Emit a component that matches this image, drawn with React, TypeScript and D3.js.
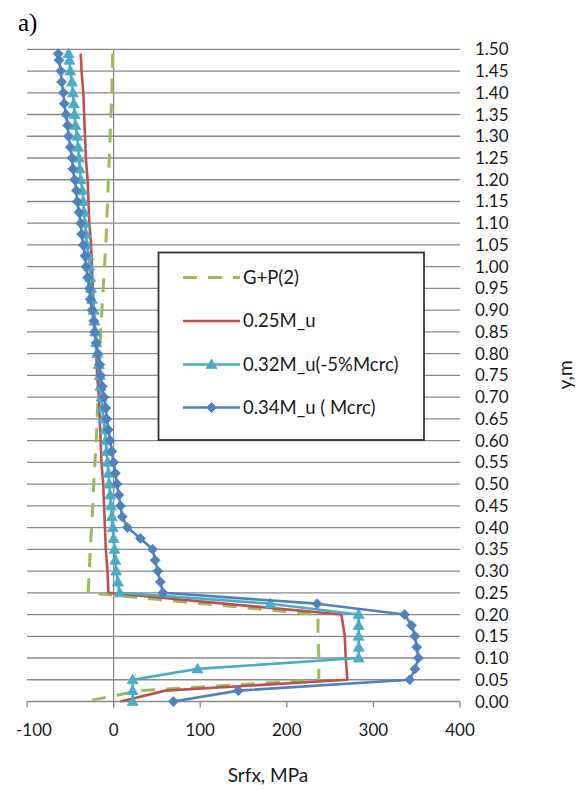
import React from "react";
import * as d3 from "d3";

// ---- data ----
const yTickLabels = ["0.00","0.05","0.10","0.15","0.20","0.25","0.30","0.35","0.40","0.45","0.50","0.55","0.60","0.65","0.70","0.75","0.80","0.85","0.90","0.95","1.00","1.05","1.10","1.15","1.20","1.25","1.30","1.35","1.40","1.45","1.50"];
const xTickValues = [-100, 0, 100, 200, 300, 400];

// depths for the unmarked series (G+P(2), 0.25M_u)
const yCoarse = [1.49,1.45,1.40,1.35,1.30,1.25,1.20,1.15,1.10,1.05,1.00,0.95,0.90,0.85,0.80,0.75,0.70,0.65,0.60,0.55,0.50,0.45,0.40,0.35,0.30,0.25,0.20,0.15,0.10,0.05,0.025,0.00];
const greenGP = [-1,-1.5,-2,-3,-4,-5,-6,-7,-8,-9,-10.5,-12,-13.5,-15,-16,-17,-18,-19,-20,-21.5,-23,-24,-25.5,-27,-28,-29.5,236,236,237,237,30,-33];
const red025 = [-38,-37,-35,-34,-33,-32,-30,-29,-28,-26,-25,-24,-23,-21,-20,-19,-17,-16,-15,-14,-12,-11,-10,-9,-7,-6,263,267,268,270,60,8];

// depths for the marked series
const yFine = [1.490,1.475,1.450,1.425,1.400,1.375,1.350,1.325,1.300,1.275,1.250,1.225,1.200,1.175,1.150,1.125,1.100,1.075,1.050,1.025,1.000,0.975,0.950,0.925,0.900,0.875,0.850,0.825,0.800,0.775,0.750,0.725,0.700,0.675,0.650,0.625,0.600,0.575,0.550,0.525,0.500,0.475,0.450,0.425,0.400,0.375,0.350,0.325,0.300,0.275,0.250,0.225,0.200,0.175,0.150,0.125,0.100,0.075,0.050,0.025,0.000];
const teal032 = [-52,-51,-50,-48,-47,-46,-45,-44,-42,-41,-40,-39,-38,-36,-35,-34,-33,-32,-31,-29,-28,-27,-26,-25,-23,-22,-21,-20,-19,-17,-16,-15,-14,-13,-12,-10,-9,-8,-7,-6,-5,-4,-3,-2,-1,0,1,2,3,5,7,181,283,283,283,283,283,97,22,22,22];
const blue034 = [-64,-63,-61,-60,-58,-57,-55,-53,-52,-50,-48,-47,-45,-43,-42,-40,-38,-37,-35,-33,-32,-30,-28,-27,-25,-23,-22,-20,-18,-16,-15,-13,-11,-9,-8,-6,-4,-2,0,2,4,6,8,10,16,31,45,48,51,54,57,235,336,344,348,350,352,348,342,144,69];

const legendLabels = ["G+P(2)", "0.25M_u", "0.32M_u(-5%Mcrc)", "0.34M_u ( Mcrc)"];

const GREEN = "#9BBB59";
const RED = "#C0504D";
const TEAL = "#4BACC6";
const BLUE = "#4F81BD";
const GRID = "#8a8a8a";
const TXT = "#1a1a1a";
const FONT = "Lato, 'Open Sans', sans-serif";

const W = 581, H = 791;
const x = d3.scaleLinear().domain([-100, 400]).range([27, 460]);
const y = d3.scaleLinear().domain([0, 1.5]).range([701.5, 49.3]);

const zip = (ys: number[], xs: number[]) => ys.map((v, i) => [xs[i], v] as [number, number]);
const lineGen = d3.line<[number, number]>()
  .x(d => x(d[0]))
  .y(d => y(d[1]));

const TRI = "M0,-5.5L5.5,4L-5.5,4Z";
const DIA = "M0,-5L5,0L0,5L-5,0Z";

export default function App() {
  const gPts = zip(yCoarse, greenGP);
  const rPts = zip(yCoarse, red025);
  const tPts = zip(yFine, teal032);
  const bPts = zip(yFine, blue034);
  const x0 = x.range()[0], x1 = x.range()[1];

  const legX = 158.5, legY = 252.5, legW = 265.5, legH = 187.5;
  const legRows = [277.5, 321, 364.5, 407.5];

  return (
    <svg width={W} height={H} style={{ position: "absolute", left: 0, top: 0, background: "#fff" }}>
      <rect x={0} y={0} width={W} height={H} fill="#fff" />
      <text x={18} y={31} fontFamily="'Liberation Serif', 'Times New Roman', serif" fontSize={25} fill="#000">a)</text>

      {/* horizontal gridlines */}
      {yTickLabels.map((t) => (
        <line key={t} x1={x0} x2={x1} y1={y(+t)} y2={y(+t)} stroke={GRID} strokeWidth={1.3} />
      ))}
      {/* vertical axis line at 0 */}
      <line x1={x(0)} x2={x(0)} y1={y(1.5)} y2={y(0) + 6} stroke={GRID} strokeWidth={1.3} />
      {/* x axis ticks */}
      {xTickValues.map((v) => (
        <line key={v} x1={x(v)} x2={x(v)} y1={y(0)} y2={y(0) + 6} stroke={GRID} strokeWidth={1.3} />
      ))}
      {xTickValues.map((v, i) => (
        <text key={"xl" + v} x={x(v) + (i === 0 ? 7 : 0)} y={736} textAnchor="middle" fontFamily={FONT} fontSize={17} fill={TXT}>{v}</text>
      ))}
      {yTickLabels.map((t) => (
        <text key={"yl" + t} x={475} y={y(+t) + 6} fontFamily={FONT} fontSize={17} fill={TXT}>{t}</text>
      ))}
      <text x={268} y={782} textAnchor="middle" fontFamily={FONT} fontSize={19} fill={TXT}>Srfx, MPa</text>
      <text transform="translate(572,375) rotate(-90)" textAnchor="middle" fontFamily={FONT} fontSize={19} fill={TXT}>y,m</text>

      {/* series */}
      <path d={lineGen(gPts) || ""} fill="none" stroke={GREEN} strokeWidth={3} strokeDasharray="14,11" />
      <path d={lineGen(rPts) || ""} fill="none" stroke={RED} strokeWidth={2.6} strokeLinejoin="round" />
      <path d={lineGen(tPts) || ""} fill="none" stroke={TEAL} strokeWidth={2.6} strokeLinejoin="round" />
      {tPts.map((p, i) => (
        <path key={"t" + i} d={TRI} transform={`translate(${x(p[0])},${y(p[1])})`} fill={TEAL} stroke={TEAL} strokeWidth={0.8} />
      ))}
      <path d={lineGen(bPts) || ""} fill="none" stroke={BLUE} strokeWidth={2.6} strokeLinejoin="round" />
      {bPts.map((p, i) => (
        <path key={"b" + i} d={DIA} transform={`translate(${x(p[0])},${y(p[1])})`} fill={BLUE} stroke={BLUE} strokeWidth={0.8} />
      ))}

      {/* legend */}
      <rect x={legX} y={legY} width={legW} height={legH} fill="#fff" stroke="#333" strokeWidth={1.8} />
      <line x1={183} x2={240} y1={legRows[0]} y2={legRows[0]} stroke={GREEN} strokeWidth={3} strokeDasharray="14,11" />
      <line x1={183} x2={240} y1={legRows[1]} y2={legRows[1]} stroke={RED} strokeWidth={2.6} />
      <line x1={183} x2={240} y1={legRows[2]} y2={legRows[2]} stroke={TEAL} strokeWidth={2.6} />
      <path d={TRI} transform={`translate(211.5,${legRows[2]})`} fill={TEAL} stroke={TEAL} strokeWidth={0.8} />
      <line x1={183} x2={240} y1={legRows[3]} y2={legRows[3]} stroke={BLUE} strokeWidth={2.6} />
      <path d={DIA} transform={`translate(211.5,${legRows[3]})`} fill={BLUE} stroke={BLUE} strokeWidth={0.8} />
      {legendLabels.map((l, i) => (
        <text key={l} x={243} y={legRows[i] + 6} fontFamily={FONT} fontSize={18.5} fill={TXT}>{l}</text>
      ))}
    </svg>
  );
}
